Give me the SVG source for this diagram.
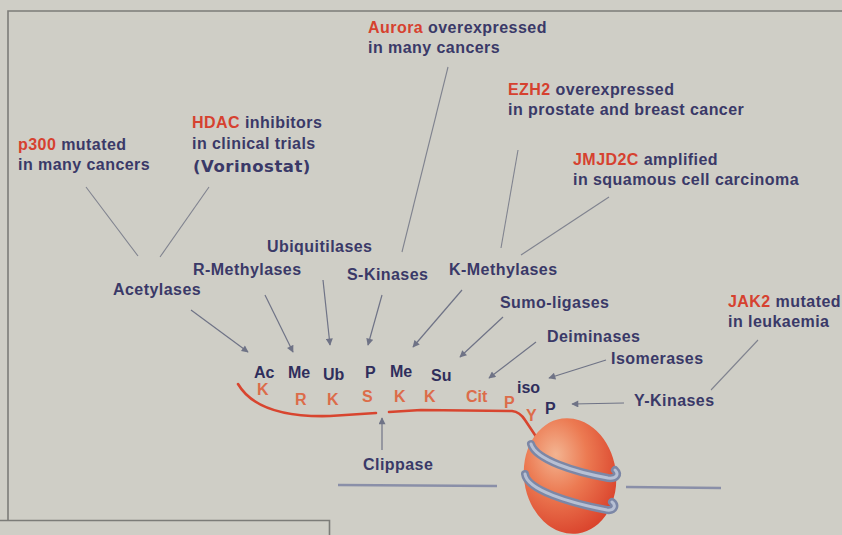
<svg xmlns="http://www.w3.org/2000/svg" width="842" height="535" viewBox="0 0 842 535">
  <defs>
    <style>
      .lbl { font-family: "Liberation Sans", Arial, sans-serif; font-weight: bold; font-size: 16px; letter-spacing: 0.45px; fill: #3a3968; }
      .gene { fill: #d6412f; }
      .mod { font-family: "Liberation Sans", Arial, sans-serif; font-weight: bold; font-size: 16px; fill: #2f2e5c; }
      .res { font-family: "Liberation Sans", Arial, sans-serif; font-weight: bold; font-size: 16px; fill: #dc6c4a; }
      .drug { font-family: "DejaVu Sans", Verdana, sans-serif; font-weight: bold; font-size: 16.5px; letter-spacing: 0.5px; fill: #3a3968; }
      .frame { stroke: #7c7c78; stroke-width: 1.6; fill: none; }
      .link { stroke: #80838f; stroke-width: 1.1; fill: none; }
      .arrow { stroke: #6f7386; stroke-width: 1.2; fill: none; marker-end: url(#head); }
      .dna { stroke: #8a8fa8; stroke-width: 2.6; fill: none; }
      .tail { stroke: #d8452f; stroke-width: 2.6; fill: none; stroke-linecap: round; stroke-linejoin: round; }
      .band-out { stroke: #7c87a6; stroke-width: 8; fill: none; stroke-linecap: round; }
      .band-in { stroke: #b7c0d4; stroke-width: 3; fill: none; stroke-linecap: round; }
    </style>
    <marker id="head" viewBox="0 0 10 10" refX="9" refY="5" markerWidth="8" markerHeight="7" markerUnits="userSpaceOnUse" orient="auto">
      <path d="M0,0 L10,5 L0,10 z" fill="#6f7386"/>
    </marker>
    <radialGradient id="core" cx="0.38" cy="0.3" r="0.75">
      <stop offset="0" stop-color="#f3b491"/>
      <stop offset="0.45" stop-color="#ec7a52"/>
      <stop offset="1" stop-color="#d9402a"/>
    </radialGradient>
  </defs>

  <!-- background and panel frame -->
  <rect width="842" height="535" fill="#cfcec6"/>
  <path class="frame" d="M842 11 H8 V520.5"/>
  <path class="frame" d="M0 520.5 H329.5 V535"/>

  <!-- DNA linker -->
  <g id="dna">
    <line class="dna" x1="338" y1="485" x2="497" y2="486"/>
    <line class="dna" x1="626" y1="487" x2="721" y2="488"/>
  </g>

  <!-- histone tail -->
  <g id="tail">
    <path class="tail" d="M238 384 Q258 418 330 416 L376 413"/>
    <path class="tail" d="M389 412 L421 410 L512 411 Q520 412 525 420 L537 438"/>
  </g>

  <!-- nucleosome core with wrapped DNA -->
  <g id="nucleosome">
    <ellipse cx="570" cy="476" rx="46" ry="58" transform="rotate(-8 570 476)" fill="url(#core)"/>
    <path class="band-out" d="M531 444 C536 460 575 472 608 478 C617 479 619 474 615 470"/>
    <path class="band-in" d="M531 444 C536 460 575 472 608 478 C617 479 619 474 615 470"/>
    <path class="band-out" d="M525 474 C527 490 570 503 607 510 C615 511 616 505 612 502"/>
    <path class="band-in" d="M525 474 C527 490 570 503 607 510 C615 511 616 505 612 502"/>
  </g>

  <!-- connectors -->
  <g id="connectors">
    <line class="link" x1="86" y1="187" x2="138" y2="256"/>
    <line class="link" x1="209" y1="187" x2="160" y2="257"/>
    <line class="link" x1="448" y1="67" x2="402" y2="252"/>
    <line class="link" x1="518" y1="150" x2="501" y2="248"/>
    <line class="link" x1="609" y1="197" x2="521" y2="255"/>
    <line class="link" x1="758" y1="340" x2="711" y2="390"/>
    <line class="arrow" x1="191" y1="310" x2="248" y2="352"/>
    <line class="arrow" x1="265" y1="295" x2="293" y2="352"/>
    <line class="arrow" x1="323" y1="280" x2="330" y2="345"/>
    <line class="arrow" x1="382" y1="295" x2="368" y2="345"/>
    <line class="arrow" x1="462" y1="290" x2="413" y2="347"/>
    <line class="arrow" x1="503" y1="317" x2="460" y2="357"/>
    <line class="arrow" x1="536" y1="342" x2="489" y2="378"/>
    <line class="arrow" x1="606" y1="360" x2="549" y2="378"/>
    <line class="arrow" x1="624" y1="403" x2="572" y2="404"/>
    <line class="arrow" x1="382" y1="450" x2="382" y2="418"/>
  </g>

  <!-- annotations -->
  <g id="aurora">
    <text class="lbl" x="368" y="33"><tspan class="gene">Aurora</tspan> overexpressed</text>
    <text class="lbl" x="368" y="53">in many cancers</text>
  </g>
  <g id="ezh2">
    <text class="lbl" x="508" y="95"><tspan class="gene">EZH2</tspan> overexpressed</text>
    <text class="lbl" x="508" y="115">in prostate and breast cancer</text>
  </g>
  <g id="jmjd2c">
    <text class="lbl" x="573" y="165"><tspan class="gene">JMJD2C</tspan> amplified</text>
    <text class="lbl" x="573" y="185">in squamous cell carcinoma</text>
  </g>
  <g id="p300">
    <text class="lbl" x="18" y="150"><tspan class="gene">p300</tspan> mutated</text>
    <text class="lbl" x="18" y="170">in many cancers</text>
  </g>
  <g id="hdac">
    <text class="lbl" x="192" y="128"><tspan class="gene">HDAC</tspan> inhibitors</text>
    <text class="lbl" x="192" y="149">in clinical trials</text>
    <text class="drug" x="193" y="172">(Vorinostat)</text>
  </g>
  <g id="jak2">
    <text class="lbl" x="728" y="307"><tspan class="gene">JAK2</tspan> mutated</text>
    <text class="lbl" x="728" y="327">in leukaemia</text>
  </g>

  <!-- enzymes -->
  <g id="ubiquitilases"><text class="lbl" x="267" y="252">Ubiquitilases</text></g>
  <g id="r-methylases"><text class="lbl" x="193" y="275">R-Methylases</text></g>
  <g id="s-kinases"><text class="lbl" x="347" y="280">S-Kinases</text></g>
  <g id="k-methylases"><text class="lbl" x="449" y="275">K-Methylases</text></g>
  <g id="acetylases"><text class="lbl" x="113" y="295">Acetylases</text></g>
  <g id="sumo-ligases"><text class="lbl" x="500" y="308">Sumo-ligases</text></g>
  <g id="deiminases"><text class="lbl" x="547" y="342">Deiminases</text></g>
  <g id="isomerases"><text class="lbl" x="611" y="364">Isomerases</text></g>
  <g id="y-kinases"><text class="lbl" x="634" y="406">Y-Kinases</text></g>
  <g id="clippase"><text class="lbl" x="363" y="470">Clippase</text></g>

  <!-- modifications -->
  <g id="marks">
    <text class="mod" x="254" y="378">Ac</text>
    <text class="mod" x="288" y="378">Me</text>
    <text class="mod" x="323" y="380">Ub</text>
    <text class="mod" x="365" y="378">P</text>
    <text class="mod" x="390" y="377">Me</text>
    <text class="mod" x="431" y="381">Su</text>
    <text class="mod" x="517" y="393">iso</text>
    <text class="mod" x="545" y="414">P</text>
  </g>

  <!-- residues -->
  <g id="residues">
    <text class="res" x="257" y="395">K</text>
    <text class="res" x="295" y="405">R</text>
    <text class="res" x="327" y="405">K</text>
    <text class="res" x="362" y="402">S</text>
    <text class="res" x="394" y="402">K</text>
    <text class="res" x="424" y="402">K</text>
    <text class="res" x="466" y="402">Cit</text>
    <text class="res" x="504" y="408">P</text>
    <text class="res" x="526" y="421">Y</text>
  </g>
</svg>
